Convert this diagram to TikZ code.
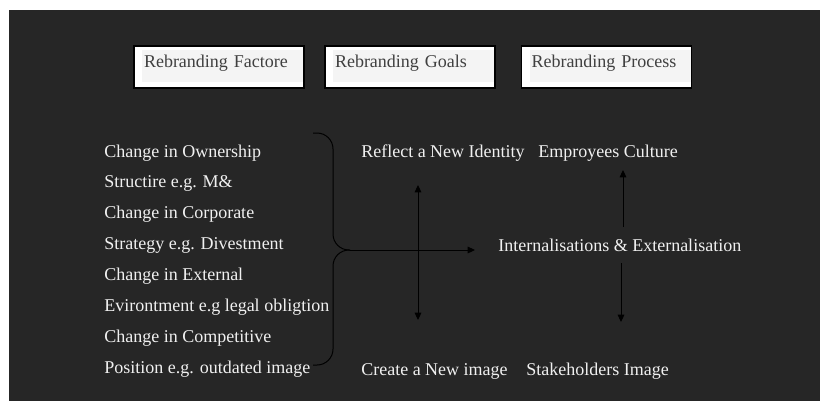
\documentclass[tikz,border=0pt]{standalone}
\usepackage{fontspec}
\setmainfont{Liberation Serif}
\usetikzlibrary{arrows.meta,calc}

\definecolor{slate}{HTML}{262626}
\definecolor{chalk}{HTML}{F0F0F0}
\definecolor{ink}{HTML}{404040}
\definecolor{panel}{HTML}{F4F4F4}

\tikzset{
  headbox/.style={rectangle, draw=black, line width=0.9pt, fill=white,
    minimum width=127.5pt, minimum height=31.5pt, inner xsep=7.5pt,
    text width=112.5pt, align=left, text height=3pt, text depth=3pt, text=ink,
    path picture={\fill [panel] ($(path picture bounding box.north west)+(8,4)$)
      rectangle ($(path picture bounding box.south east)+(-1,-6)$);}},
  item/.style={anchor=base west, inner sep=0pt, text=chalk},
  link/.style={line width=0.75pt, -{Triangle[length=5.5pt,width=5pt]}},
  twoway/.style={line width=0.75pt, {Triangle[length=5.5pt,width=5pt]}-{Triangle[length=5.5pt,width=5pt]}},
}

\begin{document}
\begin{tikzpicture}[x=0.75pt, y=-0.75pt, font=\fontsize{13.5pt}{16pt}\selectfont]
      \useasboundingbox (0, 0) rectangle (820, 401);
      \fill [white] (0, 0) rectangle (820, 401);
      \fill [slate] (9, 10) rectangle (820, 401);

      % headings
      \node [headbox] (factors) at (219, 67) {Rebranding Factore};
      \node [headbox] (goals) at (410, 67) {Rebranding Goals};
      \node [headbox] (process) at (606.5, 67) {Rebranding Process};

      % factor list
      \foreach \txt [count=\i] in {Change in Ownership, Structire e.g. M\&, Change in Corporate,
          Strategy e.g. Divestment, Change in External, Evirontment e.g legal obligtion,
          Change in Competitive, Position e.g. outdated image}
        \node [item] (factor\i) at (104, {157+30.9*(\i-1)}) {\txt};

      \node [item] (identity) at (361, 157) {Reflect a New Identity};
      \node [item] (culture) at (538, 157) {Emproyees Culture};
      \node [item] (internal) at (498, 251) {Internalisations \& Externalisation};
      \node [item] (newimage) at (361, 375) {Create a New image};
      \node [item] (stakeholders) at (526, 375) {Stakeholders Image};

      % brace and arrow ends
      \coordinate (bracetop) at (313, 133);
      \coordinate (bracebot) at (313, 365);
      \coordinate (spine) at (333, 250);
      \coordinate (tip) at (350, 250);
      \coordinate (goalend) at (475, 250);
      \coordinate (goaltop) at (418, 185);
      \coordinate (goalbot) at (418, 320);
      \coordinate (procrise) at (623, 227);
      \coordinate (proctop) at (623, 170);
      \coordinate (procdrop) at (621, 263);
      \coordinate (procbot) at (621, 322);

      \draw [line width=0.75pt, rounded corners=12pt] (bracetop) -| (spine) -- (tip);
      \draw [line width=0.75pt, rounded corners=12pt] (bracebot) -| (spine) -- (tip);
      \draw [link] (tip) -- (goalend);
      \draw [twoway] (goaltop) -- (goalbot);
      \draw [link] (procrise) -- (proctop);
      \draw [link] (procdrop) -- (procbot);
\end{tikzpicture}
\end{document}
